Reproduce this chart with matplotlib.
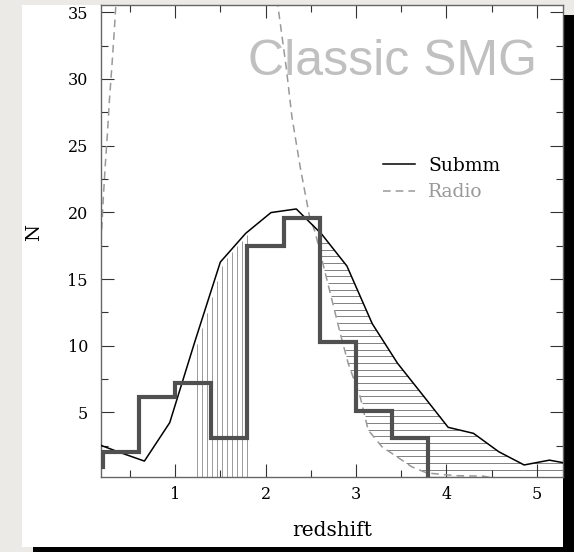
import numpy as np
import matplotlib
matplotlib.use('Agg')
import matplotlib.pyplot as plt
from matplotlib.patches import Rectangle
from matplotlib.ticker import MultipleLocator

plt.rcParams['font.family'] = 'DejaVu Serif'

# submm redshift histogram (bins of 0.4)
hist_edges = [-0.2, 0.2, 0.6, 1.0, 1.4, 1.8, 2.2, 2.6, 3.0, 3.4, 3.8, 4.2]
hist_counts = [0.9, 2.05, 6.18, 7.17, 3.10, 17.5, 19.55, 10.3, 5.13, 3.06, 0.0]

# smoothed submm N(z)
submm_z = [0.10, 0.38, 0.66, 0.94, 1.22, 1.50, 1.78, 2.06, 2.34, 2.62,
           2.90, 3.18, 3.46, 3.74, 4.02, 4.30, 4.58, 4.86, 5.14, 5.42]
submm_n = [2.73, 2.02, 1.35, 4.23, 10.35, 16.27, 18.42, 19.98, 20.25, 18.37,
           15.97, 11.65, 8.68, 6.29, 3.88, 3.43, 2.05, 1.06, 1.42, 1.07]

# radio selection curve: low-z branch and high-z branch
radio_lo_z = [0.170, 0.181, 0.189, 0.204, 0.226, 0.251, 0.273, 0.300, 0.325, 0.344, 0.360]
radio_lo_n = [16.8, 18.0, 18.9, 20.9, 23.4, 25.9, 28.4, 30.9, 33.4, 35.5, 37.5]
radio_hi_z = [2.10, 2.136, 2.228, 2.291, 2.383, 2.486, 2.549, 2.733, 2.825, 2.914,
              3.046, 3.135, 3.287, 3.452, 3.618, 3.784, 4.10, 4.41, 4.50]
radio_hi_n = [38.0, 35.5, 30.9, 27.2, 23.4, 19.7, 18.5, 13.46, 10.95, 8.68,
              6.18, 3.68, 2.43, 1.68, 0.92, 0.46, 0.26, 0.22, 0.10]

fig = plt.figure(figsize=(5.74, 5.52), dpi=100, facecolor='#ebeae6')
W, H = 574.0, 552.0
# drop shadow and white card behind the plot
fig.patches.append(Rectangle((33 / W, 0), 541 / W, 537 / H, transform=fig.transFigure,
                             facecolor='black', edgecolor='none', zorder=-10))
fig.patches.append(Rectangle((22 / W, 5 / H), 541 / W, 542 / H, transform=fig.transFigure,
                             facecolor='white', edgecolor='none', zorder=-9))

ax = fig.add_axes([101 / W, 75.3 / H, 462 / W, 471.7 / H])
ax.set_facecolor('none')
ax.set_xlim(0.18, 5.29)
ax.set_ylim(0.18, 35.54)

# vertical hatching under the rising edge
hatch_v_z = np.arange(1.24, 1.80, 0.0553)
hatch_v_top = np.interp(hatch_v_z - 0.03, submm_z, submm_n)
ax.vlines(hatch_v_z, 0, hatch_v_top, color='#9a9a9a', lw=0.7, zorder=1)

# horizontal hatching between the radio curve and the submm curve
lo_z_desc = np.array(radio_hi_z[::-1])
lo_n_asc = np.array(radio_hi_n[::-1])
for level in np.arange(0.7, 17.8, 0.5):
    z_left = np.interp(level, lo_n_asc, lo_z_desc)
    zz = np.linspace(z_left, 5.5, 3000)
    inside = np.interp(zz, submm_z, submm_n) > level
    edges = np.flatnonzero(np.diff(np.r_[0, inside.astype(int), 0]))
    for a, b in zip(edges[::2], edges[1::2]):
        ax.hlines(level, zz[a], zz[b - 1], color='#808080', lw=0.7, zorder=1)

ax.plot(radio_lo_z, radio_lo_n, color='#999999', lw=1.1, ls=(0, (5, 3.3)), zorder=2)
ax.plot(radio_hi_z, radio_hi_n, color='#999999', lw=1.1, ls=(0, (5, 3.3)), zorder=2,
        label='Radio')
ax.plot(submm_z, submm_n, color='black', lw=1.1, zorder=3, label='Submm')
ax.stairs(hist_counts, hist_edges, baseline=None, color='#505050', lw=3.0, zorder=4)

h, l = ax.get_legend_handles_labels()
leg = ax.legend(h[::-1], l[::-1], loc='upper left', bbox_to_anchor=(0.59, 0.698),
                frameon=False, fontsize=13.5, handlelength=1.7, handletextpad=0.7,
                labelspacing=0.45, borderpad=0, labelcolor='linecolor')

ax.text(0.632, 0.851, 'Classic SMG', transform=ax.transAxes, ha='center', va='baseline',
        fontsize=36, color='#c0c0c0', family='Liberation Sans', zorder=0)

ax.xaxis.set_major_locator(MultipleLocator(1))
ax.xaxis.set_minor_locator(MultipleLocator(0.5))
ax.yaxis.set_major_locator(MultipleLocator(5))
ax.yaxis.set_minor_locator(MultipleLocator(2.5))
ax.tick_params(which='both', direction='in', top=True, right=True, width=0.8, color='#333333')
ax.tick_params(which='major', length=9.5, labelsize=11.5)
ax.tick_params(which='minor', length=5)
ax.tick_params(axis='x', pad=7)
ax.tick_params(axis='y', pad=9.4)
for s in ax.spines.values():
    s.set_color('#666666')
    s.set_linewidth(1.0)

ax.set_xlabel('redshift', fontsize=14.5)
ax.set_ylabel('N', fontsize=14, rotation=90)
ax.xaxis.set_label_coords(0.5, -0.093)
ax.yaxis.set_label_coords(-0.125, 0.517)

fig.savefig('out.png', dpi=100, facecolor=fig.get_facecolor())
